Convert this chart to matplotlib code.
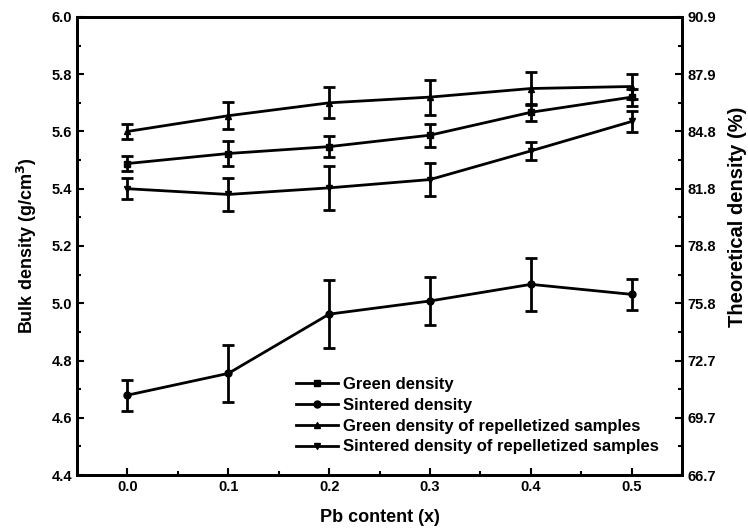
import matplotlib
matplotlib.use('Agg')
import matplotlib.pyplot as plt
from matplotlib.lines import Line2D
import numpy as np

plt.rcParams['font.family'] = ['Liberation Sans', 'DejaVu Sans']
plt.rcParams['font.weight'] = 'bold'
plt.rcParams['mathtext.default'] = 'bf'

pb = [0.0, 0.1, 0.2, 0.3, 0.4, 0.5]

green = [5.488, 5.523, 5.547, 5.587, 5.667, 5.72]
green_err = [0.025, 0.045, 0.037, 0.04, 0.03, 0.03]

sintered = [4.679, 4.755, 4.962, 5.008, 5.066, 5.031]
sintered_err = [0.054, 0.10, 0.119, 0.085, 0.092, 0.055]

green_rep = [5.60, 5.655, 5.70, 5.72, 5.75, 5.757]
green_rep_err = [0.025, 0.048, 0.054, 0.061, 0.057, 0.045]

sintered_rep = [5.40, 5.38, 5.403, 5.432, 5.532, 5.635]
sintered_rep_err = [0.037, 0.057, 0.076, 0.058, 0.032, 0.036]

series = [
    (green, green_err, 's', 'Green density'),
    (sintered, sintered_err, 'o', 'Sintered density'),
    (green_rep, green_rep_err, '^', 'Green density of repelletized samples'),
    (sintered_rep, sintered_rep_err, 'v', 'Sintered density of repelletized samples'),
]

theo_density = 6.6
yticks = [4.4, 4.6, 4.8, 5.0, 5.2, 5.4, 5.6, 5.8, 6.0]

fig = plt.figure(figsize=(7.48, 5.29), dpi=100)
ax = fig.add_axes([0.103, 0.102, 0.809, 0.866])

handles = []
for vals, err, mk, lab in series:
    ax.errorbar(pb, vals, yerr=err, color='black', marker=mk, markersize=5,
                linewidth=2, elinewidth=2, capsize=4, capthick=2)
    handles.append(Line2D([], [], color='black', marker=mk, markersize=5,
                          linewidth=2, label=lab))

ax.set_xlim(-0.05, 0.55)
ax.set_ylim(4.4, 6.0)
ax.set_xticks(pb)
ax.set_xticks(np.arange(-0.05, 0.56, 0.05), minor=True)
ax.set_yticks(yticks)
ax.set_yticks(np.arange(4.4, 6.01, 0.1), minor=True)
ax.set_xticklabels([f'{v:.1f}' for v in pb])
ax.set_yticklabels([f'{v:.1f}' for v in yticks])
ax.tick_params(which='both', direction='in', top=False, right=False, labelsize=10.5, width=1.5)
ax.tick_params(which='major', length=5)
ax.tick_params(which='minor', length=3)
for s in ax.spines.values():
    s.set_linewidth(2)
ax.set_xlabel('Pb content (x)', fontsize=13, fontweight='bold', labelpad=11)
ax.set_ylabel('Bulk density (g/cm$^3$)', fontsize=13, fontweight='bold', labelpad=9)

ax2 = ax.twinx()
ax2.set_ylim(4.4 / theo_density * 100, 6.0 / theo_density * 100)
rticks = [v / theo_density * 100 for v in yticks]
ax2.set_yticks(rticks)
ax2.set_yticks([v / theo_density * 100 for v in np.arange(4.4, 6.01, 0.1)], minor=True)
ax2.set_yticklabels([f'{v:.1f}' for v in rticks])
ax2.tick_params(which='both', direction='in', labelsize=10.5, width=1.5)
ax2.tick_params(which='major', length=5)
ax2.tick_params(which='minor', length=3)
for s in ax2.spines.values():
    s.set_linewidth(2)
ax2.set_ylabel('Theoretical density (%)', fontsize=14.5, fontweight='bold')
ax2.yaxis.set_label_coords(1.075, 0.563)

ax.legend(handles=handles, loc='lower left', bbox_to_anchor=(0.362, 0.045), frameon=False,
          fontsize=12, handlelength=2.5, handletextpad=0.3, labelspacing=0.35,
          borderpad=0, borderaxespad=0)

plt.savefig('out.png', dpi=100)
plt.close()
